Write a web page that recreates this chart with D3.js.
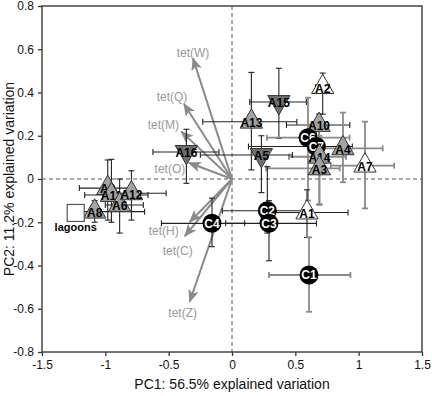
<!DOCTYPE html>
<html>
<head>
<meta charset="utf-8">
<script src="https://cdn.jsdelivr.net/npm/d3@7"></script>
<style>
  body { margin: 0; background: #fff; }
  text { font-family: "Liberation Sans", Arial, Helvetica, sans-serif; }
</style>
</head>
<body>
<div class="chart"></div>
<script>
var svgWidth = 432;
var svgHeight = 396;

var margin = { top: 6, right: 10, bottom: 44, left: 42 };
var width = svgWidth - margin.left - margin.right;
var height = svgHeight - margin.top - margin.bottom;

// site scores (PC1, PC2) with error ranges
var names  = ["A2", "A15", "A13", "A10", "C6", "C7", "A4", "A14", "A3", "A7", "A5", "A16",
              "C4", "C2", "C3", "A1", "C1", "A9", "A11", "A6", "A12", "A8", "lagoons"];
var pc1    = [0.716, 0.37, 0.153, 0.687, 0.60, 0.666, 0.876, 0.69, 0.69, 1.05, 0.232, -0.36,
              -0.158, 0.279, 0.292, 0.592, 0.608, -0.981, -0.952, -0.887, -0.794, -1.084, -1.234];
var pc2    = [0.425, 0.356, 0.265, 0.25, 0.191, 0.15, 0.142, 0.103, 0.049, 0.062, 0.111, 0.125,
              -0.205, -0.147, -0.205, -0.155, -0.444, -0.042, -0.074, -0.12, -0.066, -0.151, -0.157];
var pc1Lo  = [0.66, 0.14, -0.231, 0.43, 0.276, 0.13, 0.72, 0.45, 0.27, 0.78, -0.25, -0.624,
              -0.557, -0.076, -0.05, 0.30, 0.292, -1.205, -1.163, -1.0, -0.99, -1.2, null];
var pc1Hi  = [0.77, 0.587, 0.512, 0.93, 0.928, 0.95, 1.19, 0.9, 0.85, 1.28, 0.477, -0.103,
              0.10, 0.60, 0.667, 0.916, 0.935, -0.808, -0.663, -0.70, -0.52, -0.69, null];
var pc2Lo  = [0.30, 0.188, 0.042, 0.19, -0.10, 0.05, -0.015, -0.116, -0.12, -0.136, -0.063, -0.02,
              -0.313, -0.25, -0.378, -0.27, -0.614, -0.19, -0.20, -0.25, -0.19, -0.20, null];
var pc2Hi  = [0.49, 0.512, 0.493, 0.30, 0.376, 0.25, 0.307, 0.20, 0.12, 0.265, 0.20, 0.23,
              -0.089, 0.057, -0.10, -0.05, -0.27, 0.088, 0.091, 0.0, 0.038, -0.10, null];
var shapes = ["upW", "down", "up", "up", "circle", "circle", "up", "up", "up", "upW", "down", "down",
              "circle", "circle", "circle", "upW", "circle", "up", "up", "up", "up", "up", "square"];
var errTone = ["k", "k", "k", "k", "g", "k", "g", "g", "g", "g", "k", "k",
               "k", "k", "k", "k", "g", "k", "k", "k", "k", "k", "k"];

// loading vectors for the variables
var vecNames = ["tet(W)", "tet(Q)", "tet(M)", "tet(O)", "tet(H)", "tet(C)", "tet(Z)"];
var vecX = [-0.308, -0.379, -0.40, -0.34, -0.334, -0.373, -0.334];
var vecY = [0.558, 0.347, 0.219, 0.075, -0.199, -0.264, -0.567];
// label offsets from arrow tips (px)
var vecLabelDx = [0, -12, -18, -19, -26, -7, -7];
var vecLabelDy = [-6, -7, -7, 6, 9, 15, 11];

var xTicks = [-1.5, -1, -0.5, 0, 0.5, 1, 1.5];
var yTicks = [-0.8, -0.6, -0.4, -0.2, 0, 0.2, 0.4, 0.6, 0.8];

var svg = d3.select(".chart").append("svg")
  .attr("width", svgWidth)
  .attr("height", svgHeight);

var chartGroup = svg.append("g")
  .attr("transform", `translate(${margin.left}, ${margin.top})`);

var x = d3.scaleLinear().domain([-1.5, 1.5]).range([0, width]);
var y = d3.scaleLinear().domain([-0.8, 0.8]).range([height, 0]);

var fmt = d => (d === 0 ? "0" : String(d));

var bottomAxis = d3.axisBottom(x).tickValues(xTicks).tickFormat(fmt).tickSize(4).tickPadding(4);
var leftAxis = d3.axisLeft(y).tickValues(yTicks).tickFormat(fmt).tickSize(4).tickPadding(4);

var xAxis = chartGroup.append("g")
  .attr("transform", `translate(0, ${height})`)
  .call(bottomAxis);
var yAxis = chartGroup.append("g").call(leftAxis);

[xAxis, yAxis].forEach(function(ax) {
  ax.select(".domain").remove();
  ax.selectAll("line").attr("stroke", "#333").attr("stroke-width", 1.3);
  ax.selectAll("text").attr("font-size", "12px").attr("fill", "#111");
});

// frame
chartGroup.append("rect")
  .attr("x", 0).attr("y", 0)
  .attr("width", width).attr("height", height)
  .attr("fill", "none")
  .attr("stroke", "#444")
  .attr("stroke-width", 1.5);

// zero lines
chartGroup.append("line")
  .attr("x1", x(0)).attr("x2", x(0)).attr("y1", 0).attr("y2", height)
  .attr("stroke", "#555").attr("stroke-dasharray", "4,3");
chartGroup.append("line")
  .attr("x1", 0).attr("x2", width).attr("y1", y(0)).attr("y2", y(0))
  .attr("stroke", "#555").attr("stroke-dasharray", "4,3");

// axis titles
svg.append("text")
  .attr("x", margin.left + width / 2)
  .attr("y", 389)
  .attr("text-anchor", "middle")
  .attr("font-size", "14px")
  .attr("fill", "#111")
  .text("PC1: 56.5% explained variation");

svg.append("text")
  .attr("transform", "rotate(-90)")
  .attr("x", -(margin.top + height / 2))
  .attr("y", 14)
  .attr("text-anchor", "middle")
  .attr("font-size", "14px")
  .attr("fill", "#111")
  .text("PC2: 11.2% explained variation");

// arrows
svg.append("defs").append("marker")
  .attr("id", "head")
  .attr("markerUnits", "userSpaceOnUse")
  .attr("viewBox", "0 0 12 10")
  .attr("refX", 11).attr("refY", 5)
  .attr("markerWidth", 13).attr("markerHeight", 11)
  .attr("orient", "auto")
  .append("path")
  .attr("d", "M0,0 L12,5 L0,10 L3,5 Z")
  .attr("fill", "#8a8a8a");

var vecData = vecNames.map((n, i) => ({ name: n, x: vecX[i], y: vecY[i], dx: vecLabelDx[i], dy: vecLabelDy[i] }));

chartGroup.selectAll(".vec")
  .data(vecData)
  .enter()
  .append("line")
  .attr("class", "vec")
  .attr("x1", x(0)).attr("y1", y(0))
  .attr("x2", d => x(d.x)).attr("y2", d => y(d.y))
  .attr("stroke", "#8a8a8a")
  .attr("stroke-width", 2)
  .attr("marker-end", "url(#head)");

chartGroup.selectAll(".vecLabel")
  .data(vecData)
  .enter()
  .append("text")
  .attr("class", "vecLabel")
  .attr("x", d => x(d.x) + d.dx)
  .attr("y", d => y(d.y) + d.dy)
  .attr("dy", "0.35em")
  .attr("text-anchor", "middle")
  .attr("font-size", "12px")
  .attr("fill", "#999")
  .text(d => d.name);

// sites
var sites = names.map((n, i) => ({
  name: n, x: pc1[i], y: pc2[i],
  xlo: pc1Lo[i], xhi: pc1Hi[i], ylo: pc2Lo[i], yhi: pc2Hi[i],
  shape: shapes[i], tone: errTone[i]
}));

var errGroup = chartGroup.append("g");
var cap = 3;
sites.filter(d => d.xlo !== null).forEach(function(d) {
  var col = d.tone === "g" ? "#8a8a8a" : "#222";
  var sw = d.tone === "g" ? 1.8 : 1.1;
  var g = errGroup.append("g").attr("stroke", col).attr("stroke-width", sw);
  g.append("line").attr("x1", x(d.xlo)).attr("x2", x(d.xhi)).attr("y1", y(d.y)).attr("y2", y(d.y));
  g.append("line").attr("x1", x(d.xlo)).attr("x2", x(d.xlo)).attr("y1", y(d.y) - cap).attr("y2", y(d.y) + cap);
  g.append("line").attr("x1", x(d.xhi)).attr("x2", x(d.xhi)).attr("y1", y(d.y) - cap).attr("y2", y(d.y) + cap);
  g.append("line").attr("x1", x(d.x)).attr("x2", x(d.x)).attr("y1", y(d.ylo)).attr("y2", y(d.yhi));
  g.append("line").attr("x1", x(d.x) - cap).attr("x2", x(d.x) + cap).attr("y1", y(d.ylo)).attr("y2", y(d.ylo));
  g.append("line").attr("x1", x(d.x) - cap).attr("x2", x(d.x) + cap).attr("y1", y(d.yhi)).attr("y2", y(d.yhi));
});

var tri = d3.symbol().type(d3.symbolTriangle).size(215);

var markGroup = chartGroup.selectAll(".site")
  .data(sites)
  .enter()
  .append("g")
  .attr("class", "site")
  .attr("transform", d => `translate(${x(d.x)}, ${y(d.y)})`);

markGroup.each(function(d) {
  var g = d3.select(this);
  if (d.shape === "circle") {
    g.append("circle").attr("r", 9.5).attr("fill", "#000");
  } else if (d.shape === "square") {
    g.append("rect").attr("x", -8.5).attr("y", -8.5).attr("width", 17).attr("height", 17)
      .attr("fill", "#fff").attr("stroke", "#555").attr("stroke-width", 1.2);
  } else {
    var fill = d.shape === "upW" ? "#fff" : (d.shape === "down" ? "#707070" : "#a3a3a3");
    g.append("path")
      .attr("d", tri)
      .attr("transform", d.shape === "down" ? "rotate(180)" : null)
      .attr("fill", fill)
      .attr("stroke", "#333")
      .attr("stroke-width", 1);
  }
});

markGroup.filter(d => d.shape !== "square")
  .append("text")
  .attr("dy", d => d.shape === "circle" ? "0.36em" : "0.45em")
  .attr("text-anchor", "middle")
  .attr("font-size", "12px")
  .attr("font-weight", "bold")
  .attr("fill", d => d.shape === "circle" ? "#fff" : "#000")
  .text(d => d.name);

markGroup.filter(d => d.shape === "square")
  .append("text")
  .attr("y", 18)
  .attr("text-anchor", "middle")
  .attr("font-size", "11px")
  .attr("font-weight", "bold")
  .attr("fill", "#000")
  .text(d => d.name);
</script>
</body>
</html>
